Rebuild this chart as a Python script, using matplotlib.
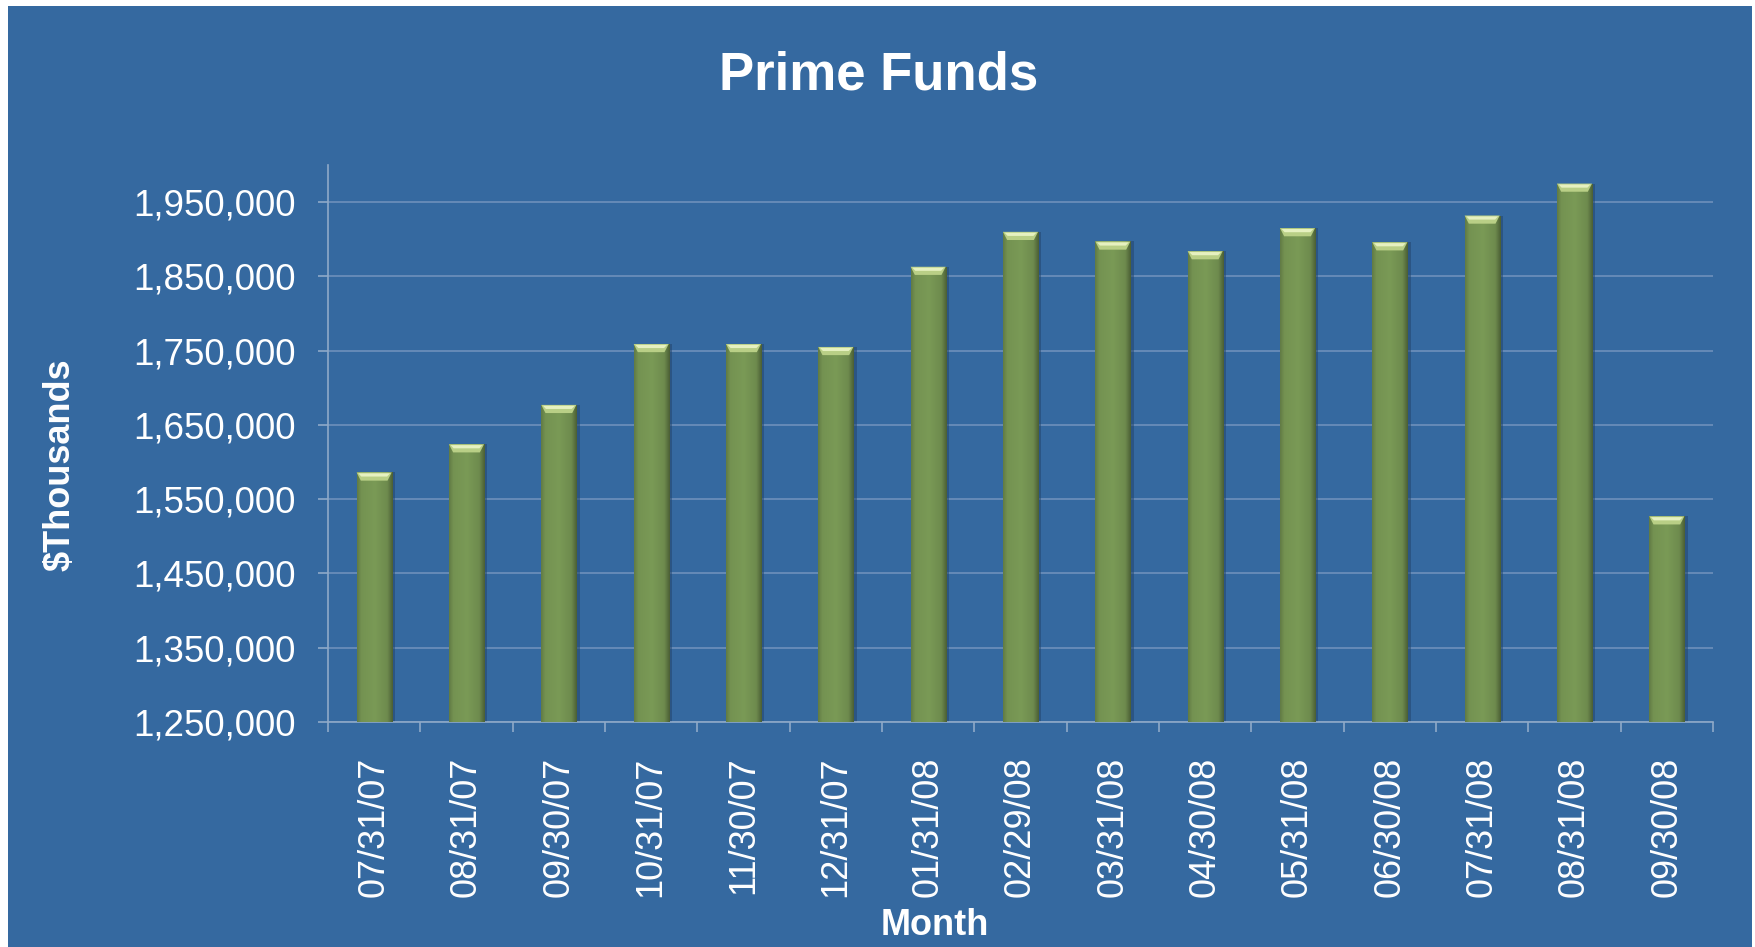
import numpy as np
import matplotlib.pyplot as plt
from matplotlib.patches import Rectangle, Polygon
from matplotlib.ticker import FuncFormatter

plt.rcParams['font.family'] = ['Liberation Sans', 'DejaVu Sans']

months = ["07/31/07", "08/31/07", "09/30/07", "10/31/07", "11/30/07",
          "12/31/07", "01/31/08", "02/29/08", "03/31/08", "04/30/08",
          "05/31/08", "06/30/08", "07/31/08", "08/31/08", "09/30/08"]
assets = [1586000, 1624000, 1677000, 1759000, 1759000,
          1755000, 1863000, 1910000, 1897000, 1884000,
          1915000, 1896000, 1932000, 1975000, 1527000]

y_min, y_max, y_step = 1250000, 2000000, 100000

bg = "#3569a0"
bar_col = "#7a9a56"
grid_col = "#6a8db9"
axis_col = "#8fa9c8"

W, H = 1756, 947
fig = plt.figure(figsize=(W / 100, H / 100), dpi=100, facecolor="white")
# blue panel behind everything
fig.patches.append(Rectangle((8 / W, 0), (1752 - 8) / W, (H - 6) / H,
                             transform=fig.transFigure, facecolor=bg,
                             edgecolor="none", zorder=-5))

ax = fig.add_axes([328 / W, (H - 722) / H, 1385 / W, 557 / H])
ax.set_facecolor("none")

x = np.arange(len(months))
width = 0.38
bottom = y_min

# soft shadow on the right of each bar
ax.bar(x + 0.035, np.array(assets) - bottom, width, bottom=bottom,
       color="#24466e", alpha=0.55, zorder=2, linewidth=0)

bars = ax.bar(x, np.array(assets) - bottom, width, bottom=bottom,
              color=bar_col, zorder=3, linewidth=0)

# horizontal shading across each bar
grad = np.linspace(0, 1, 64)
shade = np.interp(grad, [0, 0.12, 0.5, 0.85, 1.0], [0.8, 0.95, 1.0, 0.9, 0.62])
base = np.array([0x7a, 0x9a, 0x56]) / 255
img = np.clip(shade[None, :, None] * base[None, None, :], 0, 1)
for b in bars:
    x0, w = b.get_x(), b.get_width()
    y0, h = b.get_y(), b.get_height()
    im = ax.imshow(img, extent=(x0, x0 + w, y0, y0 + h), aspect="auto",
                   zorder=3.5, interpolation="bilinear")
    im.set_clip_path(b)

# light bevelled cap on top of each bar
cap_h = 11000
for xi, v in zip(x, assets):
    l, r = xi - width / 2, xi + width / 2
    inset = width * 0.12
    cap = Polygon([(l, v), (r, v), (r - inset, v - cap_h), (l + inset, v - cap_h)],
                  closed=True, facecolor="#b9cf86", edgecolor="none", zorder=4)
    ax.add_patch(cap)
    hl = Polygon([(l + inset * 0.4, v - 1200), (r - inset * 0.4, v - 1200),
                  (r - inset * 1.1, v - cap_h * 0.5), (l + inset * 1.1, v - cap_h * 0.5)],
                 closed=True, facecolor="#e6f1c0", edgecolor="none", zorder=4.1)
    ax.add_patch(hl)

ax.set_xlim(-0.5, len(months) - 0.5)
ax.set_ylim(y_min, y_max)
ax.set_yticks(np.arange(y_min, y_max, y_step))
ax.yaxis.set_major_formatter(FuncFormatter(lambda v, p: f"{v:,.0f}"))
ax.grid(axis="y", color=grid_col, linewidth=1.3, zorder=1)
ax.set_axisbelow(True)

ax.set_xticks(x)
ax.set_xticklabels(months, rotation=90, va="top", ha="center")
ax.set_xticks(np.arange(len(months) + 1) - 0.5, minor=True)
ax.tick_params(axis="x", which="major", length=0, pad=25, labelsize=26,
               labelcolor="white")
ax.tick_params(axis="x", which="minor", length=7, width=1.2, color=axis_col,
               direction="out")
ax.tick_params(axis="y", length=7, width=1.2, color=axis_col, pad=16,
               labelsize=26.5, labelcolor="white")

for side in ("top", "right"):
    ax.spines[side].set_visible(False)
for side in ("left", "bottom"):
    ax.spines[side].set_color(axis_col)
    ax.spines[side].set_linewidth(1.2)

fig.text(879 / W, 1 - 75 / H, "Prime Funds", color="white", fontsize=38,
         fontweight="bold", ha="center", va="center")
fig.text(60 / W, 1 - 465 / H, "$Thousands", color="white", fontsize=26,
         fontweight="bold", ha="center", va="center", rotation=90)
fig.text(935 / W, 1 - 925 / H, "Month", color="white", fontsize=26,
         fontweight="bold", ha="center", va="center")

fig.savefig("out.png", dpi=100, facecolor=fig.get_facecolor())
